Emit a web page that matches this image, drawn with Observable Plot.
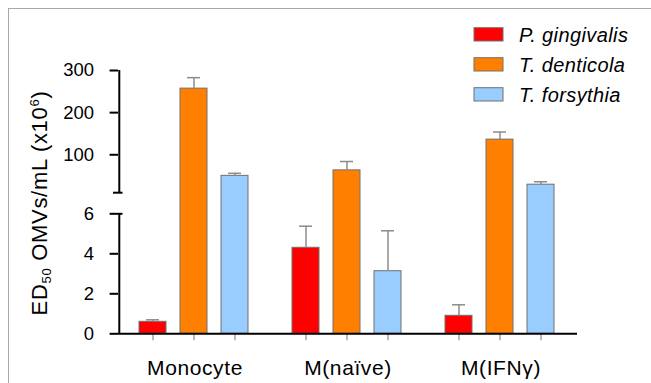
<!DOCTYPE html>
<html>
<head>
<meta charset="utf-8">
<script src="https://cdn.jsdelivr.net/npm/d3@7"></script>
<script src="https://cdn.jsdelivr.net/npm/@observablehq/plot@0.6"></script>
<style>
  html, body { margin: 0; padding: 0; background: #fff; }
  #wrap { position: relative; width: 651px; height: 383px; overflow: hidden; }
  #border { position: absolute; left: 8px; top: 8px; width: 700px; height: 420px;
            border-top: 1px solid #a8a8a8; border-left: 1px solid #a8a8a8; pointer-events: none; }
  #wrap svg { position: absolute; left: 0; top: 0; }
  [aria-label="fx-axis tick label"] text { letter-spacing: 0.6px; }
</style>
</head>
<body>
<div id="wrap"><div id="border"></div></div>
<script>
// ---- data ----
const groups = ["Monocyte", "M(naïve)", "M(IFNγ)"];
const series = ["P. gingivalis", "T. denticola", "T. forsythia"];
const colors = ["#ff0000", "#ff8000", "#99ccff"];
const pGingivalis = [0.6, 4.3, 0.9];
const tDenticola = [257, 63, 136];
const tForsythia = [50, 3.13, 29];
const pGingivalisErr = [0.1, 1.08, 0.55];
const tDenticolaErr = [26, 21, 18];
const tForsythiaErr = [6, 2.02, 7];
const yTicks = [0, 2, 4, 6, 100, 200, 300];
const yBreak = [6, 10];   // top of lower segment, bottom of upper segment
const yMax = 300;
const yLabelMain = ["ED", " OMVs/mL (x10", ")"];
const yLabelSub = "50";
const yLabelSup = "6";

// ---- table ----
const values = [pGingivalis, tDenticola, tForsythia];
const errors = [pGingivalisErr, tDenticolaErr, tForsythiaErr];
const rows = [];
groups.forEach((g, i) => series.forEach((s, j) => {
  rows.push({group: g, series: s, value: values[j][i], hi: values[j][i] + errors[j][i]});
}));
const axisSegs = [
  {group: groups[0], series: series[0], y1: 0, y2: yBreak[0]},
  {group: groups[0], series: series[0], y1: yBreak[1], y2: yMax}
];

// ---- layout ----
const W = 651, H = 383, mL = 117, mR = 74, mT = 70, mB = 49.7;
const yRange = [H - mB, 213.3, 192.2, mT];
const pi = 1 / 3, po = 0.4917, al = 0.477;
const facetW = (W - mL - mR) / groups.length;
const step = facetW / (series.length - pi + 2 * po);
const bw = step * (1 - pi);
const axisDx = -(bw / 2 + (facetW - step * (series.length - pi)) * al);
const font = "'Liberation Sans', Arial, sans-serif";

const plot = Plot.plot({
  width: W, height: H,
  marginLeft: mL, marginRight: mR, marginTop: mT, marginBottom: mB,
  style: {fontFamily: font, background: "transparent", color: "black"},
  fx: {domain: groups, padding: 0, axis: null, label: null},
  x: {domain: series, paddingInner: pi, paddingOuter: po, align: al, axis: null, label: null},
  y: {type: "linear", domain: [0, yBreak[0], yBreak[1], yMax], range: yRange, axis: null, label: null},
  color: {domain: series, range: colors},
  marks: [
    Plot.barY(rows, {fx: "group", x: "series", y: "value", fill: "series", stroke: "#707070", strokeWidth: 1}),
    Plot.ruleX(rows, {fx: "group", x: "series", y1: "value", y2: "hi", stroke: "#8c8c8c", strokeWidth: 1.5}),
    Plot.tickY(rows, {fx: "group", x: "series", y: "hi", stroke: "#8c8c8c", strokeWidth: 1.5, insetLeft: bw / 4, insetRight: bw / 4}),
    Plot.axisX({tickSize: 7, tickFormat: () => "", stroke: "#8c8c8c", strokeWidth: 1.2, label: null}),
    Plot.ruleY([0], {stroke: "black", strokeWidth: 2}),
    Plot.ruleX(axisSegs, {fx: "group", x: "series", y1: "y1", y2: "y2", dx: axisDx, stroke: "black", strokeWidth: 2}),
    Plot.axisY({ticks: yTicks, tickSize: 8.4, tickPadding: 16, fontSize: 18.5, color: "black", strokeWidth: 2, label: null}),
    Plot.axisY({ticks: yBreak, tickSize: -4.5, tickFormat: () => "", color: "black", strokeWidth: 2, label: null}),
    Plot.axisY({ticks: [yBreak[1]], tickSize: 5, tickFormat: () => "", color: "black", strokeWidth: 2, label: null}),
    Plot.axisFx({anchor: "bottom", tickSize: 0, tickPadding: 26, fontSize: 21, color: "black", label: null})
  ]
});

// ---- y label with subscript / superscript ----
const svg = d3.select(plot);
const yl = svg.append("text")
  .attr("transform", "translate(47,203) rotate(-90)")
  .attr("text-anchor", "middle")
  .attr("font-family", font)
  .attr("font-size", 22)
  .attr("letter-spacing", "0.7px")
  .attr("fill", "black");
yl.append("tspan").text(yLabelMain[0]);
yl.append("tspan").attr("font-size", 13).attr("dy", 4).text(yLabelSub);
yl.append("tspan").attr("dy", -4).text(yLabelMain[1]);
yl.append("tspan").attr("font-size", 13).attr("dy", -8.5).text(yLabelSup);
yl.append("tspan").attr("dy", 8.5).text(yLabelMain[2]);

// ---- legend ----
const leg = svg.append("g")
  .attr("font-family", font)
  .attr("font-size", 20)
  .attr("font-style", "italic")
  .attr("text-anchor", "start");
series.forEach((s, i) => {
  leg.append("rect")
    .attr("x", 474).attr("y", 27.7 + 30 * i)
    .attr("width", 29).attr("height", 13.3)
    .attr("fill", colors[i]).attr("stroke", "#707070").attr("stroke-width", 1);
  leg.append("text")
    .attr("x", 519).attr("y", 41.7 + 30 * i)
    .attr("text-anchor", "start")
    .attr("letter-spacing", "0.4px")
    .attr("fill", "black")
    .text(s);
});

document.getElementById("wrap").insertBefore(plot, document.getElementById("border"));
</script>
</body>
</html>
